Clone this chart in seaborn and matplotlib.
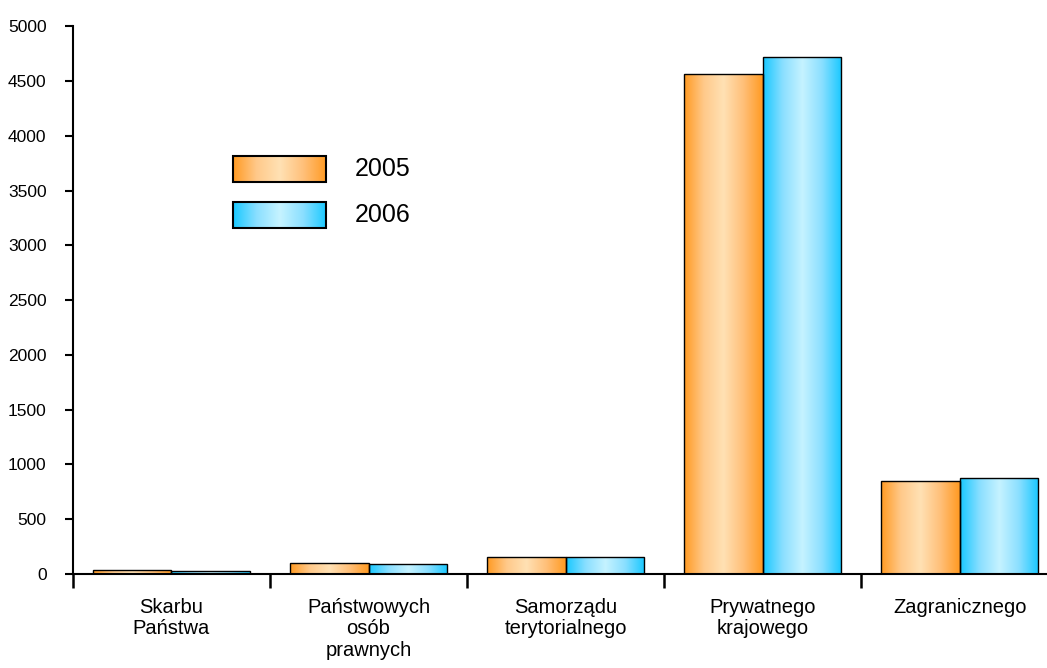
import numpy as np
import pandas as pd
import matplotlib
matplotlib.use("Agg")
import matplotlib.pyplot as plt
from matplotlib.colors import LinearSegmentedColormap
from matplotlib.patches import Rectangle
import seaborn as sns

# data
categories = ["Skarbu\nPaństwa", "Państwowych\nosób\nprawnych", "Samorządu\nterytorialnego",
              "Prywatnego\nkrajowego", "Zagranicznego"]
years = ["2005", "2006"]
values_2005 = [35, 100, 155, 4560, 850]
values_2006 = [30, 95, 155, 4715, 880]

df = pd.DataFrame({
    "kategoria": categories * 2,
    "rok": [years[0]] * 5 + [years[1]] * 5,
    "wartosc": values_2005 + values_2006,
})

sns.set_style("white")
plt.rcParams["font.family"] = ["Liberation Sans", "DejaVu Sans"]
plt.rcParams["text.color"] = "black"
plt.rcParams["xtick.color"] = "black"
plt.rcParams["ytick.color"] = "black"

# gradient colours (edge -> light middle -> edge)
grad = {
    "2005": LinearSegmentedColormap.from_list("g05", ["#FF9A22", "#FFC98A", "#FFE1B4", "#FFC07A", "#FF9A22"]),
    "2006": LinearSegmentedColormap.from_list("g06", ["#18C8FF", "#8ADFFF", "#C6F3FF", "#8ADFFF", "#18C8FF"]),
}
gradimg = np.linspace(0, 1, 256).reshape(1, -1)

fig = plt.figure(figsize=(10.47, 6.68), dpi=100)
ax = fig.add_axes([0.0697, 0.1407, 0.941, 0.820])

sns.barplot(data=df, x="kategoria", y="wartosc", hue="rok", hue_order=years,
            palette=["#FFB060", "#60D8FF"], width=0.8, edgecolor="black",
            linewidth=1, legend=False, ax=ax)

# replace flat fills with horizontal gradients
for cont, yr in zip(ax.containers, years):
    for p in cont.patches:
        x0, y0 = p.get_x(), p.get_y()
        w, h = p.get_width(), p.get_height()
        p.set_facecolor("none")
        p.set_zorder(3)
        im = ax.imshow(gradimg, cmap=grad[yr], extent=[x0, x0 + w, y0, y0 + h],
                       aspect="auto", zorder=2, interpolation="bicubic")
        im.set_clip_path(p)

ax.set_xlim(-0.5, 4.5)
ax.set_ylim(0, 5000)
ax.set_yticks(np.arange(0, 5001, 500))
ax.set_xticks(np.arange(-0.5, 5, 1))
ax.set_xticklabels([])
ax.set_xticks(np.arange(5), minor=True)
ax.set_xticklabels(categories, minor=True, fontsize=14.5, linespacing=1.17)
ax.tick_params(axis="x", which="major", direction="out", length=10, width=1.8, bottom=True)
ax.tick_params(axis="x", which="minor", length=0, pad=17)
ax.tick_params(axis="y", direction="out", length=6, width=1.5, left=True, labelsize=12.5, pad=13)
ax.set_xlabel("")
ax.set_ylabel("")

for s in ["top", "right"]:
    ax.spines[s].set_visible(False)
for s in ["left", "bottom"]:
    ax.spines[s].set_linewidth(1.5)
    ax.spines[s].set_color("black")

# legend drawn as gradient boxes
leg_y = [0.7153, 0.6314]
for yr, yb in zip(years, leg_y):
    rect = Rectangle((0.1624, yb), 0.0945, 0.0475, transform=ax.transAxes,
                     facecolor="none", edgecolor="black", linewidth=1.5, zorder=5)
    ax.add_patch(rect)
    im = ax.imshow(gradimg, cmap=grad[yr], extent=[0.1624, 0.2569, yb, yb + 0.0475],
                   transform=ax.transAxes, aspect="auto", zorder=4, interpolation="bicubic")
    im.set_clip_path(rect)
    ax.text(0.2863, yb + 0.0237, yr, transform=ax.transAxes, fontsize=18,
            va="center", ha="left")

ax.set_xlim(-0.5, 4.5)
ax.set_ylim(0, 5000)

fig.savefig("out.png", dpi=100)
